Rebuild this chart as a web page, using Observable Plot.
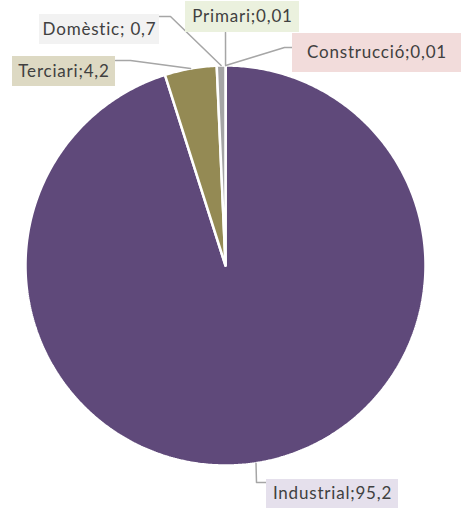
<!DOCTYPE html>
<html><head><meta charset="utf-8">
<script src="https://cdn.jsdelivr.net/npm/d3@7"></script>
<script src="https://cdn.jsdelivr.net/npm/@observablehq/plot@0.6"></script>
<style>html,body{margin:0;padding:0;background:#fff} svg text{letter-spacing:0.8px}</style>
</head><body><div id="chart"></div>
<script>
// ---- data ----
const categories = ["Primari", "Construcció", "Industrial", "Terciari", "Domèstic"];
const values = [0.01, 0.01, 95.2, 4.2, 0.7];
const valueLabels = ["0,01", "0,01", "95,2", "4,2", "0,7"];
const separators = [";", ";", ";", ";", "; "];

// ---- style ----
const sliceColors = ["#9BBB59", "#C0504D", "#5F497A", "#948A54", "#A5A5A5"];
const boxColors = ["#EBF1DE", "#F2DCDB", "#E5E0EC", "#DDD9C3", "#F2F2F2"];

// ---- layout (pixels) ----
const W = 461, H = 509;
const cx = 225, cy = 265, R = 200;
const labelLayout = {
  "Primari":     {x1: 185, x2: 299, y1: 1,   y2: 32,  elbow: [[225, 32]]},
  "Construcció": {x1: 292, x2: 461, y1: 33,  y2: 72,  elbow: [[284, 47], [292, 47]]},
  "Industrial":  {x1: 266, x2: 398, y1: 479, y2: 508, elbow: [[256, 482], [266, 482]]},
  "Terciari":    {x1: 12,  x2: 115, y1: 56,  y2: 86,  elbow: [[130, 60], [115, 60]]},
  "Domèstic":    {x1: 39,  x2: 159, y1: 14,  y2: 44,  elbow: [[170, 16], [159, 16]]}
};

const data = categories.map((c, i) => ({cat: c, value: values[i], label: c + separators[i] + valueLabels[i], box: boxColors[i]}));
const arcs = d3.pie().sort(null).value(d => d.value)(data);

const px = a => cx + R * Math.sin(a);
const py = a => cy - R * Math.cos(a);

const sliceRows = [];
arcs.forEach(a => {
  const n = Math.max(2, Math.ceil((a.endAngle - a.startAngle) / 0.01));
  sliceRows.push({cat: a.data.cat, x: cx, y: cy});
  for (let k = 0; k <= n; k++) {
    const t = a.startAngle + (a.endAngle - a.startAngle) * k / n;
    sliceRows.push({cat: a.data.cat, x: px(t), y: py(t)});
  }
  sliceRows.push({cat: a.data.cat, x: cx, y: cy});
});

const leaderRows = [];
arcs.forEach(a => {
  const mid = (a.startAngle + a.endAngle) / 2;
  const L = labelLayout[a.data.cat];
  leaderRows.push({cat: a.data.cat, x: px(mid), y: py(mid)});
  L.elbow.forEach(([x, y]) => leaderRows.push({cat: a.data.cat, x, y}));
});

const boxes = data.map(d => ({...d, ...labelLayout[d.cat]}));

const chart = Plot.plot({
  width: W, height: H,
  margin: 0,
  x: {domain: [0, W], range: [0, W], axis: null},
  y: {domain: [0, H], range: [0, H], axis: null},
  color: {domain: categories, range: sliceColors},
  style: {background: "#fff", overflow: "visible"},
  marks: [
    Plot.line(sliceRows, {x: "x", y: "y", z: "cat", fill: "cat", stroke: "#fff", strokeWidth: 2.5, curve: "linear", strokeLinejoin: "miter"}),
    Plot.line(leaderRows, {x: "x", y: "y", z: "cat", stroke: "#A6A6A6", strokeWidth: 1.5}),
    Plot.rect(boxes, {x1: "x1", x2: "x2", y1: "y1", y2: "y2", fill: "box"}),
    Plot.text(boxes, {x: d => (d.x1 + d.x2) / 2, y: d => (d.y1 + d.y2) / 2, text: "label", fill: "#404040", fontSize: 17, fontFamily: "Lato", textAnchor: "middle"})
  ]
});
document.getElementById("chart").appendChild(chart);
</script>
</body></html>
